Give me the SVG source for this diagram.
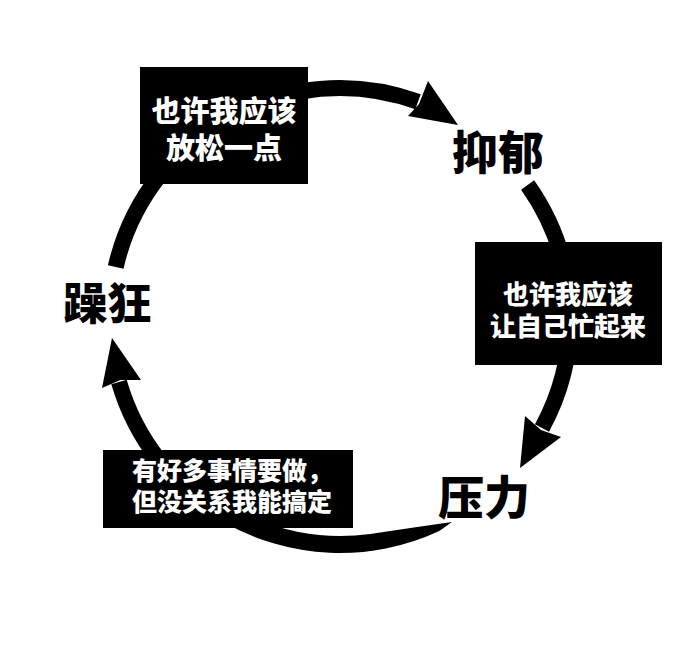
<svg xmlns="http://www.w3.org/2000/svg" width="690" height="645" viewBox="0 0 690 645">
<style>
.arc{fill:none;stroke:#000;stroke-width:16;stroke-linecap:butt}
.head{fill:#000}
.box{fill:#000}
.bt{fill:#fff;font-family:"Noto Sans CJK SC","Noto Sans",sans-serif;font-weight:900}
.lbl{fill:#000;font-family:"Noto Sans CJK SC","Noto Sans",sans-serif;font-weight:900;text-anchor:middle}
</style>
<rect width="690" height="645" fill="#fff"/>
<g id="connectors">
<path class="arc" d="M300,91.5 A230,230 0 0 1 418,101.8"/>
<polygon class="head" points="428,81 458,125 408,116 419,104"/>
<path class="arc" d="M527.6,185 A230,230 0 0 1 542,428"/>
<polygon class="head" points="525,416 520,468 561,437 541,430"/>
<path fill="#000" d="M452,522 L439.3,531 A235,235 0 0 1 222.5,521.5 L231,506.8 A218,218 0 0 0 370.3,533.9 Q410,528 452,522 Z"/>
<path class="arc" d="M159,460 A230,230 0 0 1 119,382"/>
<polygon class="head" points="102,388 112,338 141,380 120.5,380"/>
<path class="arc" d="M115.7,267 A230,230 0 0 1 160,175"/>
</g>
<g id="box-relax">
<rect class="box" x="140" y="67" width="168" height="117"/>
<text class="bt" x="224" y="122" font-size="29" text-anchor="middle">也许我应该</text>
<text class="bt" x="224" y="159" font-size="29" text-anchor="middle">放松一点</text>
</g>
<g id="node-depression">
<text class="lbl" x="498" y="169" font-size="46">抑郁</text>
</g>
<g id="box-busy">
<rect class="box" x="475" y="242" width="187" height="123"/>
<text class="bt" x="568" y="303.5" font-size="26" text-anchor="middle">也许我应该</text>
<text class="bt" x="568" y="335.5" font-size="26" text-anchor="middle">让自己忙起来</text>
</g>
<g id="node-pressure">
<text class="lbl" x="484" y="514" font-size="46">压力</text>
</g>
<g id="box-manage">
<rect class="box" x="103" y="450" width="250" height="78"/>
<text class="bt" x="132" y="480" font-size="25">有好多事情要做，</text>
<text class="bt" x="132" y="511" font-size="25">但没关系我能搞定</text>
</g>
<g id="node-mania">
<text class="lbl" x="107.5" y="320" font-size="44">躁狂</text>
</g>
</svg>
